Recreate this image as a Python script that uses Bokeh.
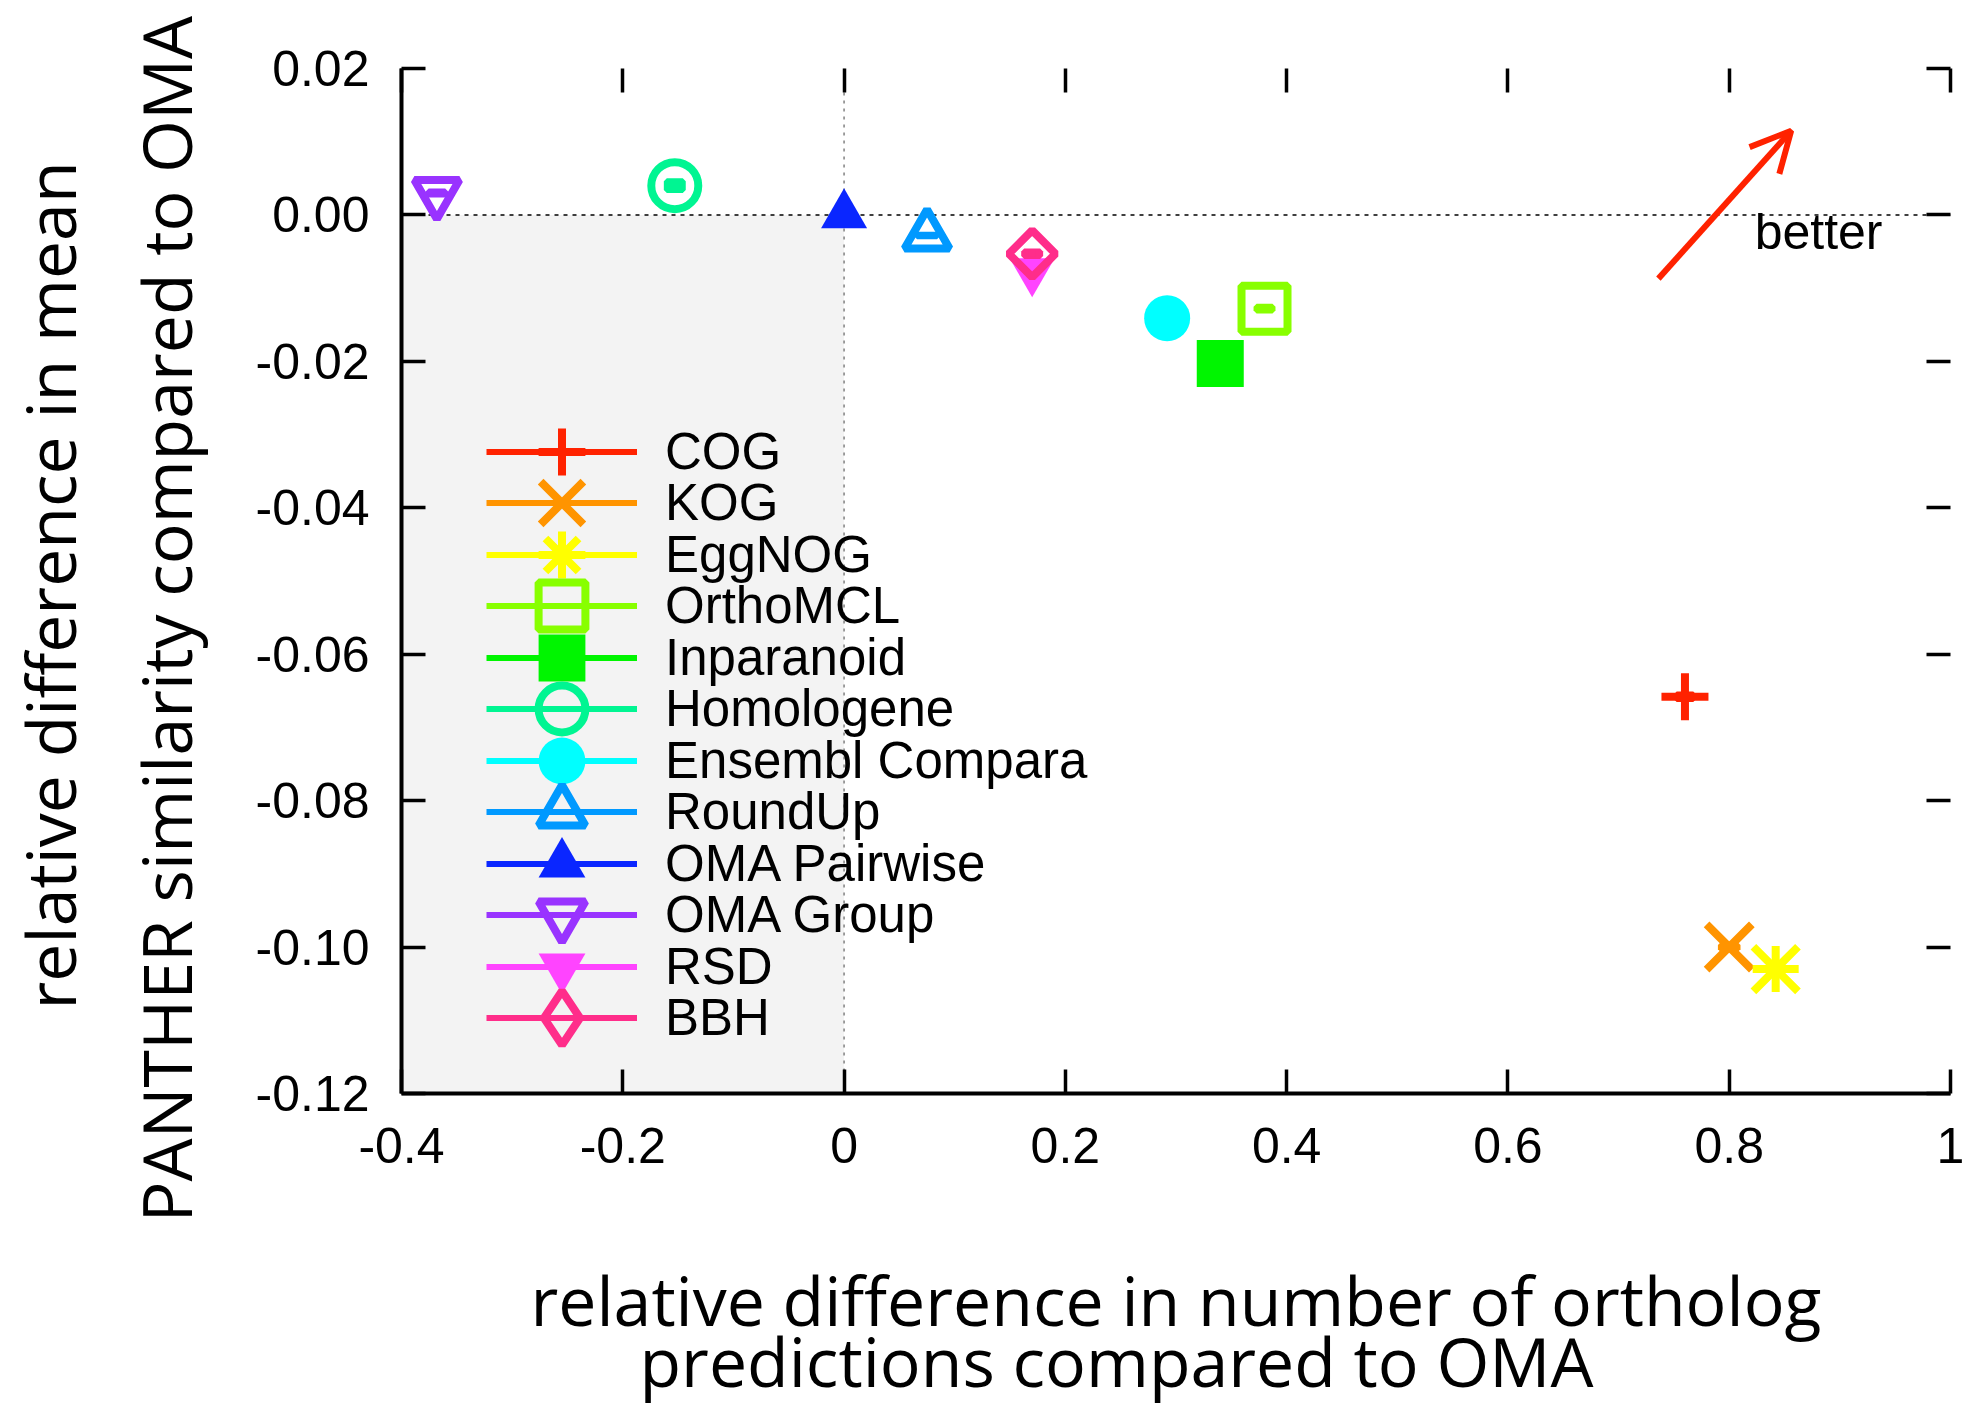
import math
from bokeh.plotting import figure
from bokeh.models import (Span, BoxAnnotation, Label, Arrow, OpenHead, Legend, LegendItem,
                          LinearAxis, FixedTicker, NumeralTickFormatter, ColumnDataSource, Title)
from bokeh.embed import file_html
from bokeh.resources import INLINE

# ---------------- data ----------------
methods = ["COG", "KOG", "EggNOG", "OrthoMCL", "Inparanoid", "Homologene",
           "Ensembl Compara", "RoundUp", "OMA Pairwise", "OMA Group", "RSD", "BBH"]
rel_diff_orthologs = [0.760, 0.800, 0.842, 0.380, 0.340, -0.153, 0.292, 0.075, 0.0, -0.368, 0.170, 0.170]
rel_diff_similarity = [-0.0658, -0.1000, -0.1030, -0.0128, -0.0203, 0.0040, -0.0141, -0.0028, 0.0, 0.0030, -0.0077, -0.0053]
err_orthologs = [0.0075, 0.0075, 0.0075, 0.0072, 0.0075, 0.0072, 0.0075, 0.0090, 0.0, 0.0075, 0.0072, 0.0072]
err_similarity = [0.0003, 0.0003, 0.0003, 0.00025, 0.0003, 0.0006, 0.0003, 0.0001, 0.0, 0.0002, 0.0003, 0.0003]

x_ticks = [-0.4, -0.2, 0.0, 0.2, 0.4, 0.6, 0.8, 1.0]
y_ticks = [0.02, 0.0, -0.02, -0.04, -0.06, -0.08, -0.10, -0.12]

x_label_lines = ["relative difference in number of ortholog", "predictions compared to OMA"]
y_label_lines = ["relative difference in mean", "PANTHER similarity compared to OMA"]

# ---------------- styles ----------------
# (marker, size, line_width, filled, angle, in_legend)
styles = {
    "COG":             ("#ff2200", [("cross", 47, 8, False, 0.0, True)]),
    "KOG":             ("#ff9400", [("x", 64, 8, False, 0.0, True)]),
    "EggNOG":          ("#ffff00", [("cross", 46, 8, False, 0.0, True), ("x", 63, 8, False, 0.0, True)]),
    "OrthoMCL":        ("#88ff00", [("square", 46, 8, False, 0.0, True)]),
    "Inparanoid":      ("#00f500", [("square", 47, 0, True, 0.0, True)]),
    "Homologene":      ("#00f592", [("circle", 47, 8, False, 0.0, True)]),
    "Ensembl Compara": ("#00ffff", [("circle", 46, 0, True, 0.0, True)]),
    "RoundUp":         ("#0099ff", [("triangle", 45, 8, False, 0.0, True)]),
    "OMA Pairwise":    ("#0a26ff", [("triangle", 46, 0, True, 0.0, True)]),
    "OMA Group":       ("#9933ff", [("inverted_triangle", 45, 8, False, 0.0, True)]),
    "RSD":             ("#ff44ff", [("inverted_triangle", 45, 0, True, 0.0, True)]),
    "BBH":             ("#ff2d8a", [("square", 33, 8, False, math.pi / 4, False),
                                    ("diamond", 1, 8, False, 0.0, True)]),
}
# legend sample box height (marker size in the legend is 0.4 * min(box width, box height))
legend_glyph_height = {"KOG": 151, "BBH": 135}

TICK_FONT = "Liberation Sans"
LABEL_FONT = "Open Sans"

p = figure(width=1966, height=1405, x_range=(-0.4, 1.0), y_range=(-0.12, 0.02),
           output_backend="svg", toolbar_location=None,
           min_border_left=401, min_border_right=16, min_border_top=68, min_border_bottom=312)
p.grid.visible = False
p.outline_line_color = None
p.background_fill_color = "white"
p.border_fill_color = "white"

# shaded quadrant and reference lines
p.add_layout(BoxAnnotation(left=-0.4, right=0.0, bottom=-0.12, top=0.0,
                           fill_color="#f3f3f3", fill_alpha=1.0, line_color=None, level="underlay"))
p.add_layout(Span(location=0.0, dimension="width", line_color="black", line_width=1.6,
                  line_dash="4 5", level="underlay"))
p.add_layout(Span(location=0.0, dimension="height", line_color="#888888", line_width=1.6,
                  line_dash="3 5", level="underlay"))

# axes
def style_axis(ax, show_labels):
    ax.axis_line_width = 4
    ax.axis_line_color = "black"
    ax.major_tick_in = 24
    ax.major_tick_out = 0
    ax.major_tick_line_width = 3.5
    ax.major_tick_line_color = "black"
    ax.minor_tick_line_color = None
    ax.major_label_text_font = TICK_FONT
    ax.major_label_text_color = "black"
    if show_labels:
        ax.major_label_text_font_size = "50px"
    else:
        ax.major_label_text_font_size = "0px"
        ax.major_label_text_color = None
        ax.major_label_standoff = 0
        ax.axis_line_color = None

xax = p.xaxis[0]
yax = p.yaxis[0]
xax.ticker = FixedTicker(ticks=x_ticks)
yax.ticker = FixedTicker(ticks=y_ticks)
xax.formatter = NumeralTickFormatter(format="0.[0]")
yax.formatter = NumeralTickFormatter(format="0.00")
style_axis(xax, True)
style_axis(yax, True)
xax.major_label_standoff = 34
yax.major_label_standoff = 32

xax.axis_label = x_label_lines[0]
xax.axis_label_text_font = LABEL_FONT
xax.axis_label_text_font_size = "68px"
xax.axis_label_text_font_style = "normal"
xax.axis_label_text_color = "black"
xax.axis_label_standoff = 87

top_ax = LinearAxis(ticker=FixedTicker(ticks=x_ticks))
right_ax = LinearAxis(ticker=FixedTicker(ticks=y_ticks))
style_axis(top_ax, False)
style_axis(right_ax, False)
p.add_layout(top_ax, "above")
p.add_layout(right_ax, "right")

# remaining lines of the axis titles
title_kw = dict(text_font=LABEL_FONT, text_font_size="68px", text_font_style="normal",
                text_color="black", align="left", vertical_align="top")
p.add_layout(Title(text=x_label_lines[1], offset=238, standoff=-70, **title_kw), "below")
p.add_layout(Title(text=y_label_lines[1], offset=-129, standoff=78, **title_kw), "left")
p.add_layout(Title(text=y_label_lines[0], offset=84, standoff=-36, **title_kw), "left")

# series
legend_items = []
for i, name in enumerate(methods):
    color, marks = styles[name]
    x = rel_diff_orthologs[i]
    y = rel_diff_similarity[i]
    xe = err_orthologs[i]
    ye = err_similarity[i]
    src = ColumnDataSource(dict(x=[x], y=[y], x0=[x - xe], x1=[x + xe],
                                w=[2 * xe], h=[2 * ye]))
    rends = []
    seg = p.segment(x0="x0", y0="y", x1="x1", y1="y", source=src,
                    line_color=color, line_width=6)
    rends.append(seg)
    if xe > 0:
        p.rect(x="x", y="y", width="w", height="h", source=src,
               fill_color=color, line_color=color, line_width=6)
    for (mk, size, lw, filled, ang, in_leg) in marks:
        r = p.scatter(x="x", y="y", source=src, marker=mk, size=size, angle=ang,
                      line_color=color, line_width=lw if lw else 0.01,
                      line_alpha=1.0 if lw else 0.0,
                      fill_color=color if filled else None,
                      fill_alpha=1.0 if filled else 0.0)
        if in_leg:
            rends.append(r)
    legend_items.append(LegendItem(label=name, renderers=rends))

# one legend per row so that the samples can be large while rows stay tight
row_pitch = 51.5
first_row_from_bottom = 642.0   # frame px from bottom edge to centre of the first row
for i, item in enumerate(legend_items):
    gh = legend_glyph_height.get(methods[i], 117)
    leg = Legend(items=[item], location=(85, first_row_from_bottom - row_pitch * i - gh / 2),
                 glyph_width=151, glyph_height=gh, padding=0, margin=0, spacing=0,
                 label_standoff=28, label_text_font=TICK_FONT, label_text_font_size="51px",
                 label_text_color="black", label_height=51,
                 background_fill_alpha=0.0, border_line_alpha=0.0)
    p.add_layout(leg, "center")

# "better" arrow
p.add_layout(Arrow(x_start=0.736, y_start=-0.0087, x_end=0.856, y_end=0.0115,
                   line_color="#ff2200", line_width=6,
                   end=OpenHead(size=40, line_color="#ff2200", line_width=6)))
p.add_layout(Label(x=0.823, y=-0.0023, text="better", text_font=TICK_FONT,
                   text_font_size="50px", text_baseline="alphabetic", text_color="black"))

open("out.html", "w").write(file_html(p, INLINE))
